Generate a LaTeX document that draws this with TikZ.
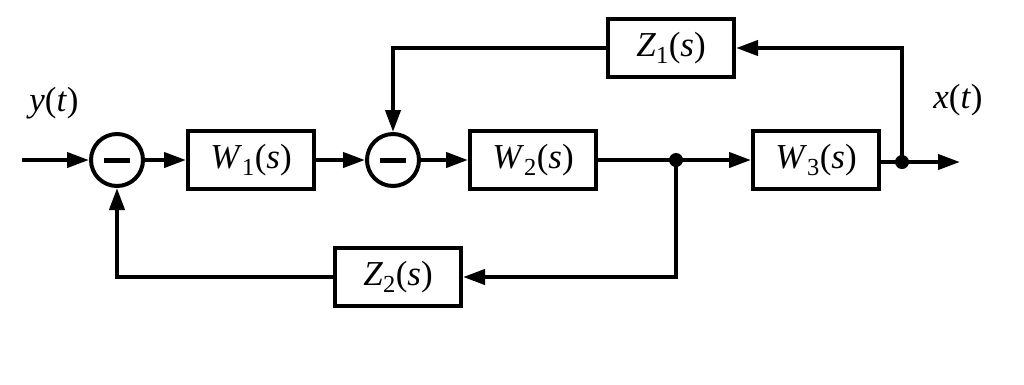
\documentclass[tikz,border=0pt]{standalone}
\usepackage{fontspec}
\setmainfont{Liberation Serif}
\usetikzlibrary{arrows.meta}
\tikzset{
  blk/.style={draw, line width=4pt, minimum width=126pt, minimum height=58pt, inner sep=0pt, font=\fontsize{35}{35}\selectfont},
  sumc/.style={draw, circle, line width=4pt, minimum size=52pt, inner sep=0pt},
  conn/.style={line width=4pt, -{Triangle[length=22pt,width=15pt]}},
  plain/.style={line width=4pt},
  dotn/.style={circle, fill, inner sep=0pt, minimum size=14pt},
  lbl/.style={font=\fontsize{35}{35}\selectfont, inner sep=0pt}
}
\newcommand{\tf}[2]{\textit{#1}\textsubscript{#2}(\textit{s})}
\begin{document}
\begin{tikzpicture}[x=1pt,y=-1pt]
\useasboundingbox (0,0) rectangle (1024,384);
\node[blk] (w1) at (251,160) {\tf{W}{1}};
\node[blk] (w2) at (533,160) {\tf{W}{2}};
\node[blk] (w3) at (816,160) {\tf{W}{3}};
\node[blk] (z1) at (671,48) {\tf{Z}{1}};
\node[blk] (z2) at (398,277) {\tf{Z}{2}};
\node[sumc] (s1) at (117,160) {};
\node[sumc] (s2) at (393,160) {};
\draw[line width=5pt] ([xshift=-13pt]s1.center) -- ([xshift=13pt]s1.center);
\draw[line width=5pt] ([xshift=-13pt]s2.center) -- ([xshift=13pt]s2.center);
\node[dotn] (j1) at (676,160) {};
\node[dotn] (j2) at (902,162) {};
\coordinate (in) at (22,160);
\coordinate (out) at (960,162);
\coordinate (c1) at (902,48);
\coordinate (c2) at (393,48);
\coordinate (c3) at (676,277);
\coordinate (c4) at (117,277);
\node[lbl] (ly) at (54,103) {\textit{y}(\textit{t})};
\node[lbl] (lx) at (958,100) {\textit{x}(\textit{t})};
\draw[conn] (in) -- (s1.west);
\draw[conn] (s1.east) -- (w1.west);
\draw[conn] (w1.east) -- (s2.west);
\draw[conn] (s2.east) -- (w2.west);
\draw[plain] (w2.east) -- (j1.center);
\draw[conn] (j1.center) -- (w3.west);
\draw[plain] (w3.east |- j2) -- (j2.center);
\draw[conn] (j2.center) -- (out);
\draw[conn] (j2.center) -- (c1) -- (z1.east);
\draw[conn] (z1.west) -- (c2) -- (s2.north);
\draw[conn] (j1.center) -- (c3) -- (z2.east);
\draw[conn] (z2.west) -- (c4) -- (s1.south);
\end{tikzpicture}
\end{document}
